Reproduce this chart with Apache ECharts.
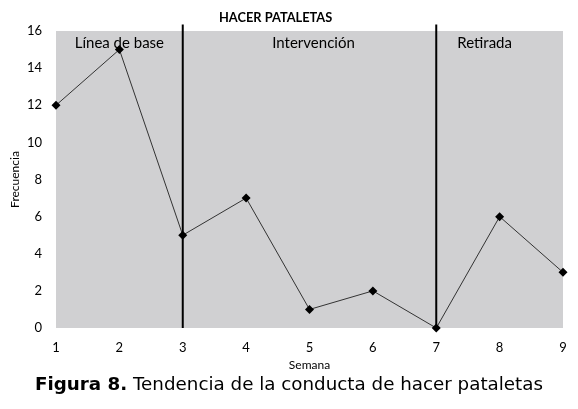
<!DOCTYPE html>
<html>
<head>
<meta charset="utf-8">
<script src="https://cdn.jsdelivr.net/npm/echarts@6/dist/echarts.min.js"></script>
<style>html,body{margin:0;padding:0;background:#fff;}#c{width:578px;height:409px;}</style>
</head>
<body>
<div id="c"></div>
<script>
const weeks = [1, 2, 3, 4, 5, 6, 7, 8, 9];
const frecuencia = [12, 15, 5, 7, 1, 2, 0, 6, 3];
const phaseNames = ['Línea de base', 'Intervención', 'Retirada'];
const phaseBounds = [[1, 3], [3, 7], [7, 9]];
const phaseChanges = [3, 7];

const chart = echarts.init(document.getElementById('c'));
const font = 'Lato, "Open Sans", sans-serif';
chart.setOption({
  backgroundColor: '#fff',
  animation: false,
  title: {
    text: 'HACER PATALETAS',
    left: 214, top: 6,
    textStyle: { fontFamily: font, fontSize: 12.8, fontWeight: 'bold', color: '#000' }
  },
  graphic: [{
    type: 'text', left: 'center', top: 376,
    style: {
      rich: {
        b: { fontFamily: '"DejaVu Sans", sans-serif', fontSize: 18.3, fontWeight: 'bold', fill: '#000' },
        n: { fontFamily: '"DejaVu Sans", sans-serif', fontSize: 18.3, fill: '#000' }
      },
      text: '{b|Figura 8.}{n| Tendencia de la conducta de hacer pataletas}'
    }
  }],
  grid: { left: 56, right: 15, top: 31, bottom: 81, show: true, backgroundColor: '#d0d0d2', borderWidth: 0, outerBoundsMode: 'none', containLabel: false },
  xAxis: {
    type: 'value', min: 1, max: 9, interval: 1,
    name: 'Semana', nameLocation: 'middle', nameGap: 31,
    nameTextStyle: { fontFamily: font, fontSize: 12, color: '#000' },
    axisLine: { show: false }, axisTick: { show: false }, splitLine: { show: false },
    axisLabel: { fontFamily: font, fontSize: 13, color: '#000', margin: 13 }
  },
  yAxis: {
    type: 'value', min: 0, max: 16, interval: 2,
    name: 'Frecuencia', nameLocation: 'middle', nameGap: 35, nameMoveOverlap: false,
    nameTextStyle: { fontFamily: font, fontSize: 12, color: '#000' },
    axisLine: { show: false }, axisTick: { show: false }, splitLine: { show: false },
    axisLabel: { fontFamily: font, fontSize: 13, color: '#000', margin: 14 }
  },
  series: [{
    type: 'line',
    data: weeks.map((w, i) => [w, frecuencia[i]]),
    clip: false,
    symbol: 'diamond', symbolSize: 9,
    itemStyle: { color: '#000' },
    lineStyle: { color: '#333', width: 1 },
    z: 5,
    markArea: {
      silent: true,
      itemStyle: { color: 'rgba(0,0,0,0)' },
      label: { position: 'insideTop', distance: 5, fontFamily: font, fontSize: 15, color: '#000' },
      data: phaseBounds.map((b, i) => [
        { name: phaseNames[i], xAxis: b[0], yAxis: 16, label: { offset: i === 2 ? [-15, 0] : (i === 1 ? [4, 0] : [0, 0]) } },
        { xAxis: b[1], yAxis: 0 }
      ])
    }
  }, {
    type: 'custom',
    clip: false,
    silent: true,
    z: 4,
    data: phaseChanges,
    encode: { x: 0 },
    renderItem: function (params, api) {
      const x = api.value(0);
      const p0 = api.coord([x, 0]);
      const p1 = api.coord([x, 16.35]);
      return {
        type: 'line',
        shape: { x1: p0[0], y1: p0[1], x2: p1[0], y2: p1[1] },
        style: { stroke: '#000', lineWidth: 2 }
      };
    }
  }]
});
</script>
</body>
</html>
